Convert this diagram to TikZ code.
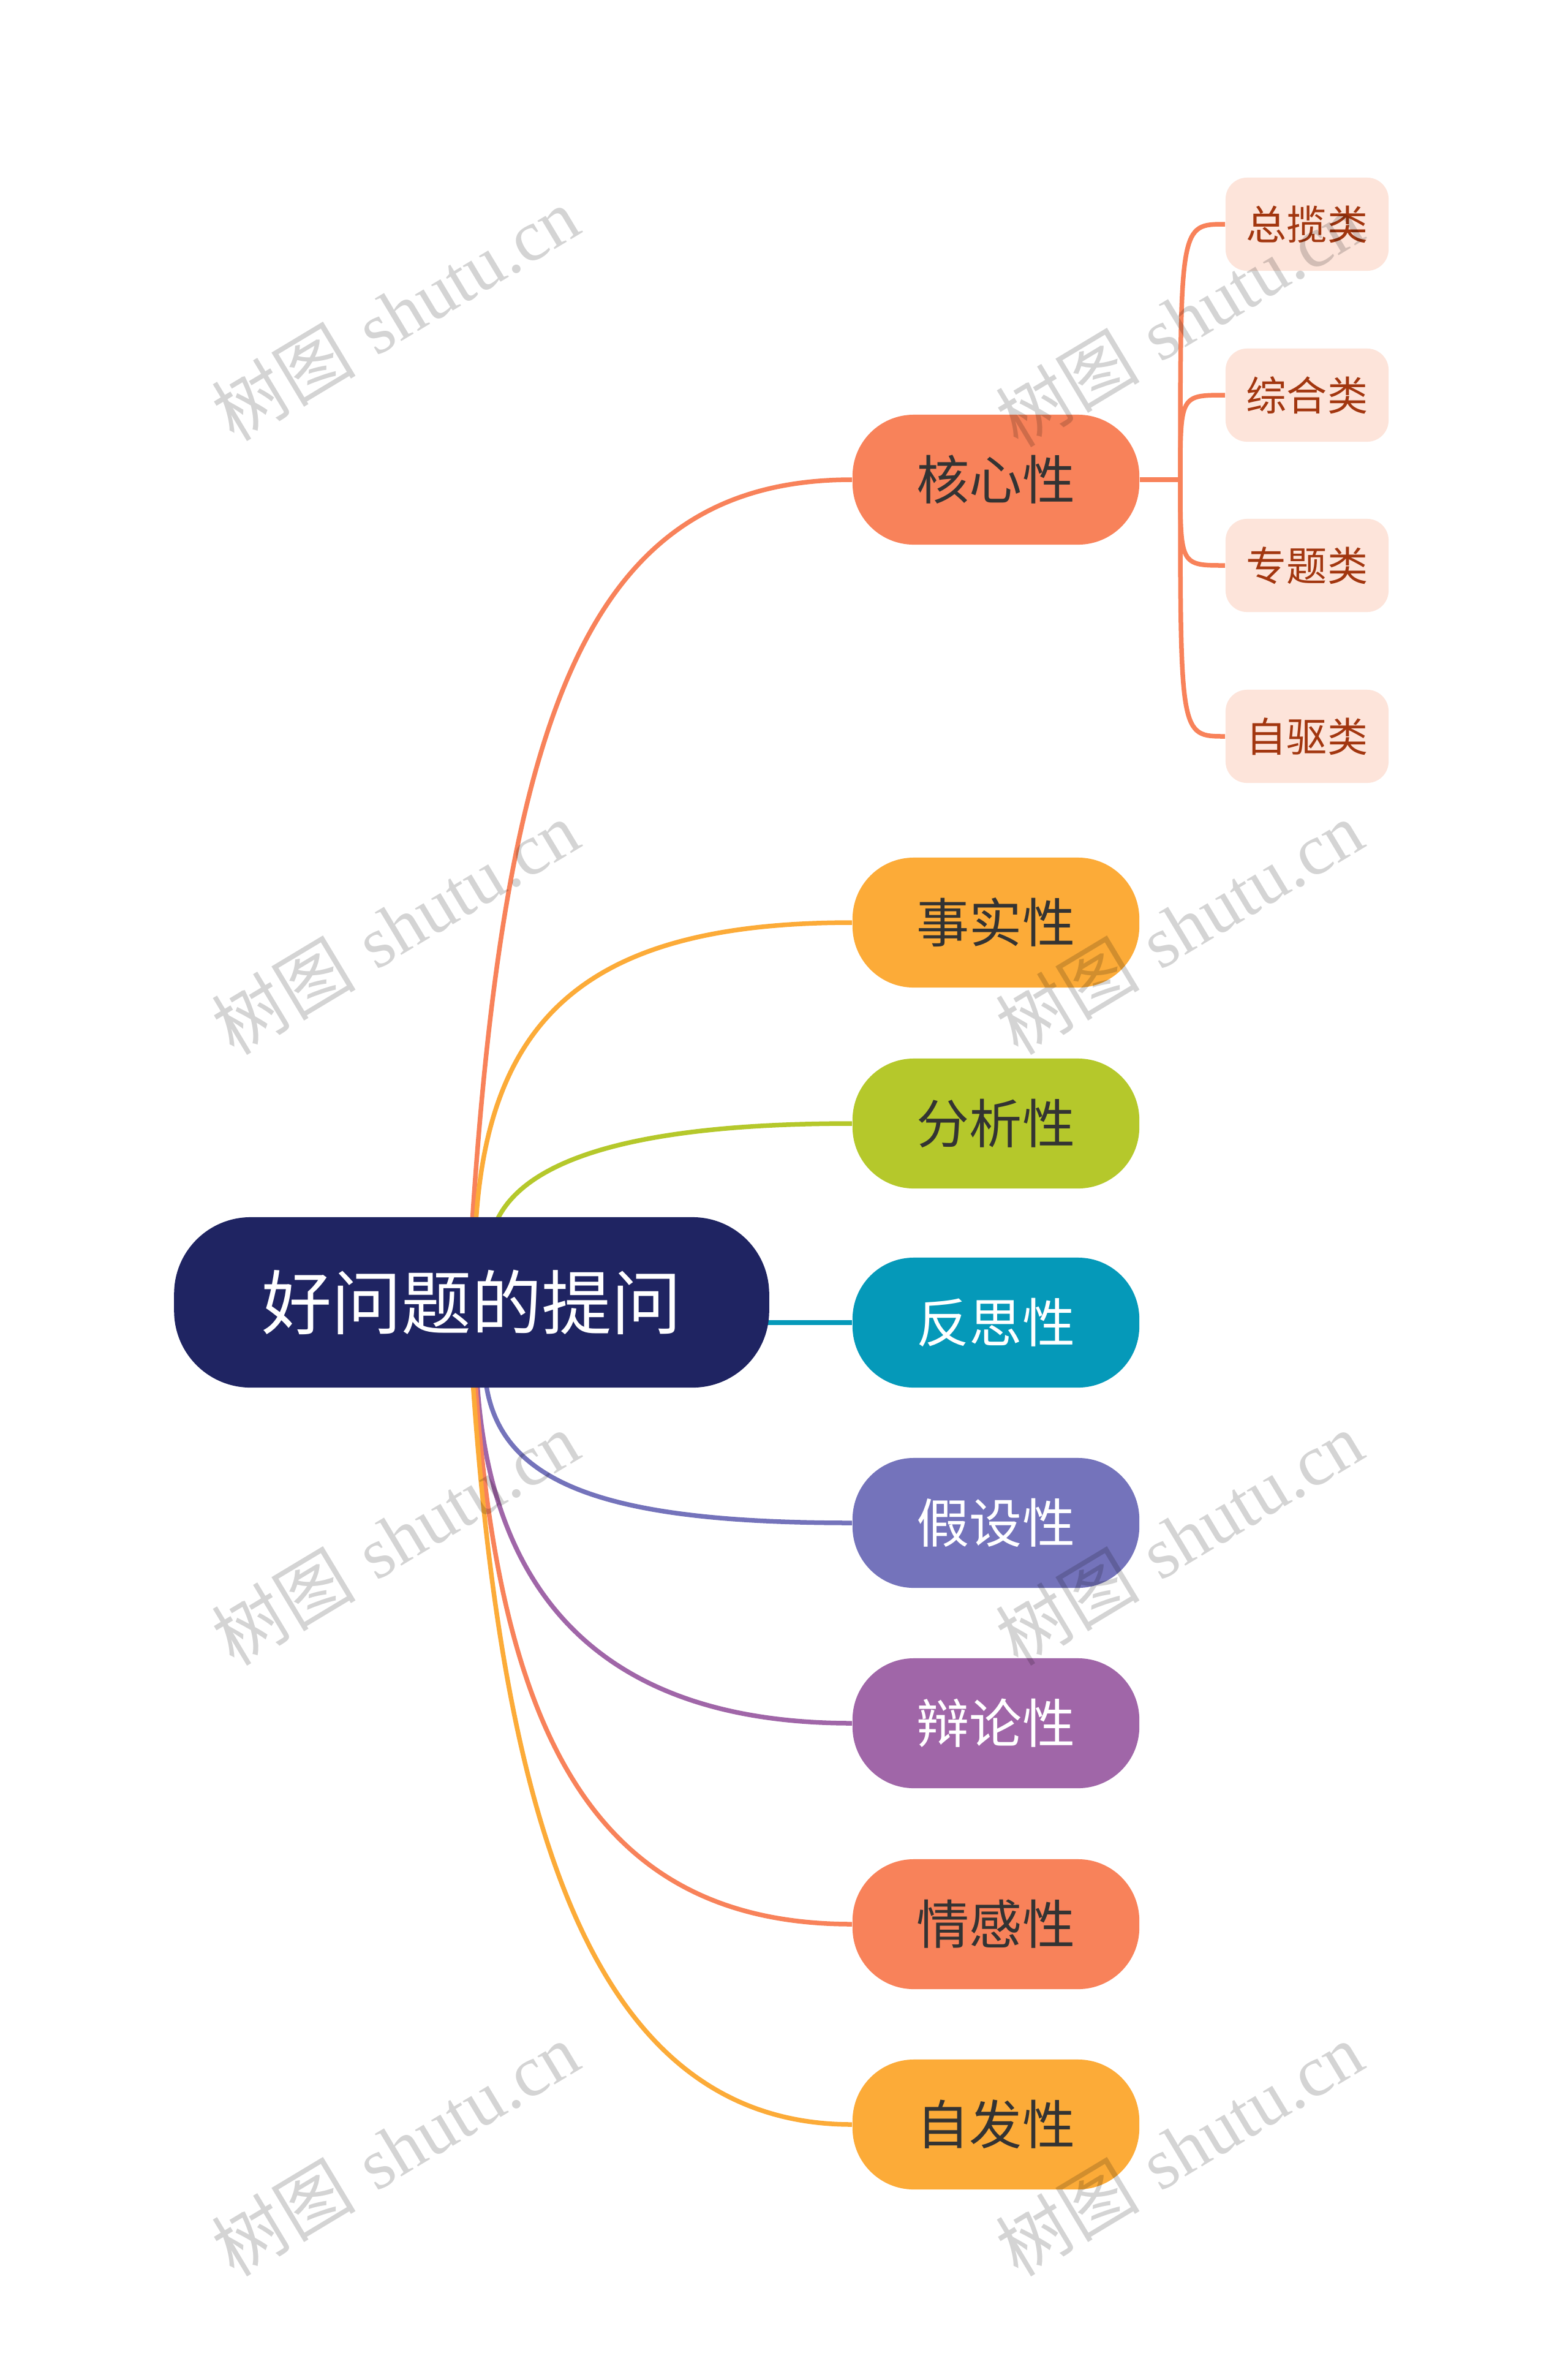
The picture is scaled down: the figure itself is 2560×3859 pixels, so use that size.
\documentclass[tikz,border=0pt]{standalone}
\usepackage{fontspec}
\newfontfamily\cjk{Noto Sans CJK SC}
\newfontfamily\wmlatin{Liberation Serif}
\usetikzlibrary{backgrounds}
\definecolor{rootc}{HTML}{1F2462}
\definecolor{coral}{HTML}{F8825A}
\definecolor{amber}{HTML}{FCAB38}
\definecolor{lime}{HTML}{B5C82B}
\definecolor{tealc}{HTML}{0599B9}
\definecolor{indigoc}{HTML}{7473BB}
\definecolor{violetc}{HTML}{A066A8}
\definecolor{subfill}{HTML}{FDE4DA}
\definecolor{subtext}{HTML}{A2360F}
\definecolor{darktext}{HTML}{333333}
\tikzset{
 rootbox/.style={rectangle, rounded corners=1.25cm, fill=rootc, minimum width=9.71cm, minimum height=2.78cm, inner sep=0pt, text=white, font=\cjk\fontsize{32.5}{36}\selectfont},
 branchbox/.style={rectangle, rounded corners=1cm, minimum width=4.68cm, minimum height=2.12cm, inner sep=0pt, font=\cjk\fontsize{24.5}{28}\selectfont},
 subbox/.style={rectangle, rounded corners=0.35cm, fill=subfill, text=subtext, minimum width=2.66cm, minimum height=1.52cm, inner sep=0pt, font=\cjk\fontsize{18.8}{22}\selectfont},
 link/.style={line width=0.075cm},
 wm/.style={text=black, text opacity=0.17, rotate=31, font=\fontsize{33.5}{36}\selectfont, inner sep=0pt},
}
\begin{document}
\begin{tikzpicture}[x=0.01cm, y=-0.01cm]
\useasboundingbox (0,0) rectangle (2560,3859);
% nodes
\node[rootbox] (root) at (770,2126) {好问题的提问};
\node[branchbox, fill=coral, text=darktext] (hexin) at (1626,783) {核心性};
\node[branchbox, fill=amber, text=darktext] (shishi) at (1626,1506) {事实性};
\node[branchbox, fill=lime, text=darktext] (fenxi) at (1626,1834) {分析性};
\node[branchbox, fill=tealc, text=white] (fansi) at (1626,2159) {反思性};
\node[branchbox, fill=indigoc, text=white] (jiashe) at (1626,2486) {假设性};
\node[branchbox, fill=violetc, text=white] (bianlun) at (1626,2813) {辩论性};
\node[branchbox, fill=coral, text=darktext] (qinggan) at (1626,3141) {情感性};
\node[branchbox, fill=amber, text=darktext] (zifa) at (1626,3468) {自发性};
\node[subbox] (zonglan) at (2134,366) {总揽类};
\node[subbox] (zonghe) at (2134,645) {综合类};
\node[subbox] (zhuanti) at (2134,923) {专题类};
\node[subbox] (ziqu) at (2134,1202) {自驱类};
% connector end points
\coordinate (a1) at (771,1995);
\coordinate (a2) at (777,1995);
\coordinate (a3) at (810,1995);
\coordinate (b1) at (793,2255);
\coordinate (b2) at (779,2255);
\coordinate (b3) at (776,2255);
\coordinate (b4) at (772,2255);
\coordinate (spine) at (1927,783);
\begin{pgfonlayer}{background}
\fill[white] (0,0) rectangle (2560,3859);
\draw[link, coral] (a1) .. controls (827,1139) and (971,783) .. (hexin.west);
\draw[link, amber] (a2) .. controls (799,1649) and (973,1506) .. (shishi.west);
\draw[link, lime] (a3) .. controls (850,1905) and (1000,1834) .. (fenxi.west);
\draw[link, tealc] ([xshift=-0.15cm]root.east |- fansi.west) -- (fansi.west);
\draw[link, indigoc] (b1) .. controls (815,2421) and (984,2486) .. (jiashe.west);
\draw[link, violetc] (b2) .. controls (800,2594) and (975,2813) .. (bianlun.west);
\draw[link, coral] (b3) .. controls (816,2834) and (973,3141) .. (qinggan.west);
\draw[link, amber] (b4) .. controls (822,2987) and (971,3468) .. (zifa.west);
\draw[link, coral] (hexin.east) -- (spine);
\draw[link, coral] (spine) .. controls (1927,366) and (1927,366) .. (zonglan.west);
\draw[link, coral] (spine) .. controls (1927,645) and (1927,645) .. (zonghe.west);
\draw[link, coral] (spine) .. controls (1927,923) and (1927,923) .. (zhuanti.west);
\draw[link, coral] (spine) .. controls (1927,1202) and (1927,1202) .. (ziqu.west);
\end{pgfonlayer}
% watermarks
\node[wm] (wm1) at (645,512) {{\cjk 树图} {\wmlatin shutu.cn}};
\node[wm] (wm2) at (1925,522) {{\cjk 树图} {\wmlatin shutu.cn}};
\node[wm] (wm3) at (645,1514) {{\cjk 树图} {\wmlatin shutu.cn}};
\node[wm] (wm4) at (1925,1514) {{\cjk 树图} {\wmlatin shutu.cn}};
\node[wm] (wm5) at (645,2511) {{\cjk 树图} {\wmlatin shutu.cn}};
\node[wm] (wm6) at (1925,2511) {{\cjk 树图} {\wmlatin shutu.cn}};
\node[wm] (wm7) at (645,3508) {{\cjk 树图} {\wmlatin shutu.cn}};
\node[wm] (wm8) at (1925,3508) {{\cjk 树图} {\wmlatin shutu.cn}};
\end{tikzpicture}
\end{document}
